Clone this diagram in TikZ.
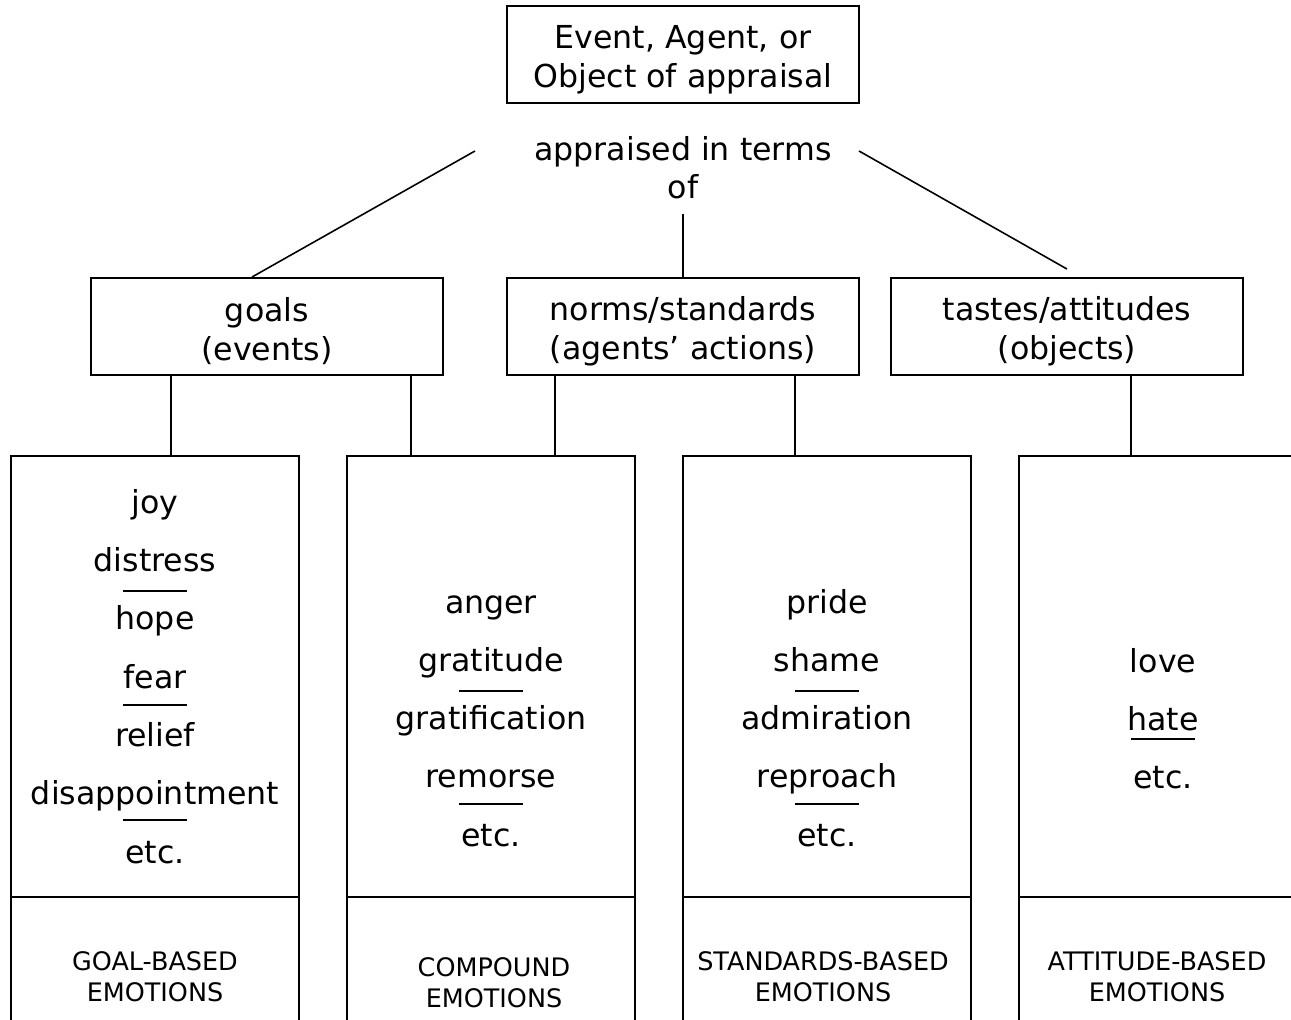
\documentclass[tikz,border=0pt]{standalone}
\usepackage{fontspec}
\setmainfont{DejaVu Sans}
\usetikzlibrary{calc,positioning}
\newcommand\hdrstrut{\rule{0pt}{19pt}}

\begin{document}
\begin{tikzpicture}[x=0.02cm,y=-0.02cm,
    box/.style={draw, line width=1.1pt, inner sep=0pt, align=center,
      minimum width=352*\px, minimum height=97*\px,
      font=\fontsize{18}{21.8}\selectfont},
    emobox/.style={draw, line width=1.1pt, inner sep=0pt,
      minimum width=288*\px, minimum height=620*\px},
    item/.style={anchor=base, inner sep=0pt, font=\fontsize{18}{21.8}\selectfont},
    lbl/.style={align=center, inner sep=0pt, font=\fontsize{14.5}{17.6}\selectfont},
    link/.style={line width=0.9pt},
    bar/.style={line width=1.1pt}]
    \def\px{0.02cm}
    \clip (0,0) rectangle (1291,1020);

    \node[box] (event) at (683,54.5) {\hdrstrut Event, Agent, or\\Object of appraisal};
    \node[align=center, inner sep=0pt, font=\fontsize{18}{21.8}\selectfont]
      (appr) at (683,168) {appraised in terms\\of};
    \coordinate (apL) at (475,151);
    \coordinate (apR) at (859,151);
    \coordinate (apB) at (683,214);

    \node[box] (goals) at (267,326.5) {\hdrstrut goals\\(events)};
    \node[box] (norms) at (683,326.5) {\hdrstrut norms/standards\\(agents’ actions)};
    \node[box] (tastes) at (1067,326.5) {\hdrstrut tastes/attitudes\\(objects)};

    \draw[link] (apL) -- ($(goals.north)+(-15,0)$);
    \draw[link] (apB) -- (norms.north);
    \draw[link] (apR) -- ($(tastes.north)+(0,-8)$);

    \node[emobox, anchor=north] (goalemo) at (155,455) {};
    \node[emobox, anchor=north] (compemo) at (491,455) {};
    \node[emobox, anchor=north] (stdemo) at (827,455) {};
    \node[emobox, anchor=north] (attemo) at (1163,455) {};

    \draw[link] ($(goals.south)+(-96,0)$) coordinate (c1) -- (c1 |- goalemo.north);
    \draw[link] ($(goals.south)+(144,0)$) coordinate (c2) -- (c2 |- compemo.north);
    \draw[link] ($(norms.south)+(-128,0)$) coordinate (c3) -- (c3 |- compemo.north);
    \draw[link] ($(norms.south)+(112,0)$) coordinate (c4) -- (c4 |- stdemo.north);
    \draw[link] ($(tastes.south)+(64,0)$) coordinate (c5) -- (c5 |- attemo.north);

    \foreach \b in {goalemo,compemo,stdemo,attemo}
      \draw[bar] (\b.west |- 0,897) -- (\b.east |- 0,897);

    \foreach \w [count=\i] in {joy,distress,hope,fear,relief,disappointment,etc.}
      \node[item] (goal\i) at (155,455+58.3*\i) {\w};
    \foreach \w [count=\i] in {anger,gratitude,gratification,remorse,etc.}
      \node[item] (comp\i) at (491,554.7+58.3*\i) {\w};
    \foreach \w [count=\i] in {pride,shame,admiration,reproach,etc.}
      \node[item] (std\i) at (827,554.7+58.3*\i) {\w};
    \foreach \w [count=\i] in {love,hate,etc.}
      \node[item] (att\i) at (1163,613.7+58.3*\i) {\w};

    \foreach \n/\d in {goal2/19,goal4/17,goal6/15,comp2/20,comp4/16,std2/20,std4/16,att2/9}
      \draw[bar] ($(\n.base)+(-32,\d)$) -- ($(\n.base)+(32,\d)$);

    \node[lbl] (goallbl) at (155,977) {GOAL-BASED\\EMOTIONS};
    \node[lbl] (complbl) at (494,983) {COMPOUND\\EMOTIONS};
    \node[lbl] (stdlbl) at (823,977) {STANDARDS-BASED\\EMOTIONS};
    \node[lbl] (attlbl) at (1157,977) {ATTITUDE-BASED\\EMOTIONS};
  \end{tikzpicture}
\end{document}
